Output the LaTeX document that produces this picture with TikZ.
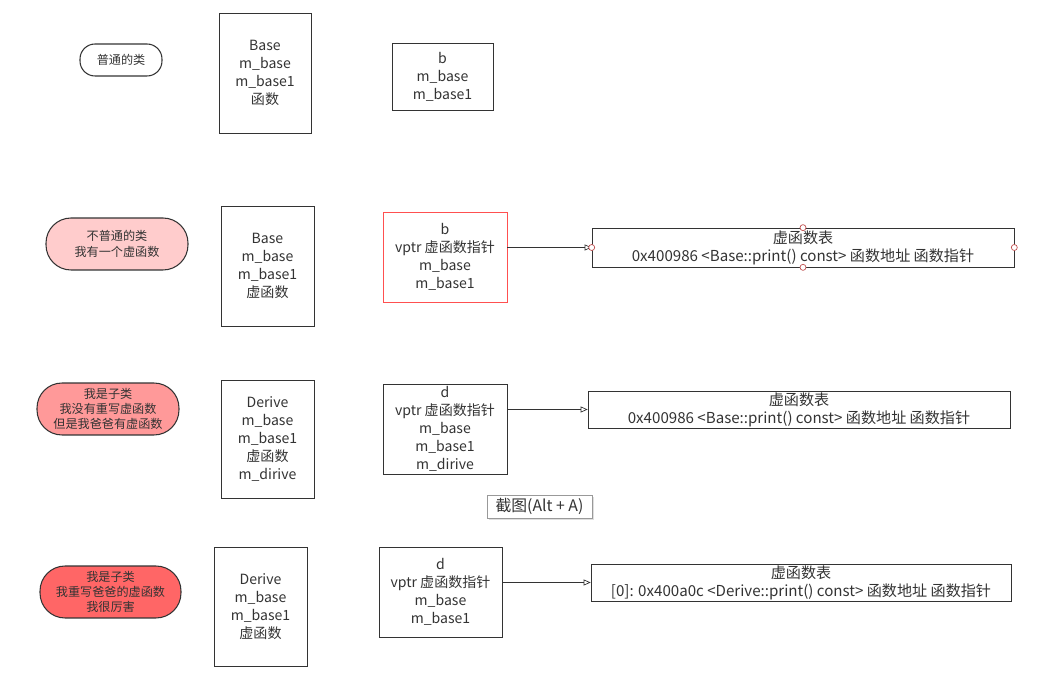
\documentclass[tikz,border=0pt]{standalone}
\usepackage{fontspec}
\setmainfont{Noto Sans CJK SC}
\usetikzlibrary{arrows.meta, shadows}

\definecolor{ink}{HTML}{333333}
\definecolor{pinkA}{HTML}{FFCCCC}
\definecolor{pinkB}{HTML}{FF9999}
\definecolor{pinkC}{HTML}{FF6666}
\definecolor{hot}{HTML}{FF5050}
\definecolor{dot}{HTML}{C05050}

\begin{document}
\begin{tikzpicture}[x=0.02cm, y=-0.02cm,
  every node/.style={text=ink, align=center, inner sep=0pt},
  membox/.style={draw=ink, font=\fontsize{8}{10.2}\selectfont},
  pill/.style={draw=ink, semithick, rounded corners=0.5cm, minimum width=2.84cm, minimum height=1.04cm, font=\fontsize{6.9}{8.7}\selectfont},
  vtab/.style={draw=ink, font=\fontsize{8.6}{10.2}\selectfont},
  ptr/.style={draw=ink, -{Triangle[open, length=0.14cm, width=0.12cm]}},
  pin/.style={circle, draw=dot, fill=white, minimum size=0.12cm}]

\useasboundingbox (0,0) rectangle (1062,675);

% row 1: plain class
\node[pill, rounded corners=0.3cm, minimum width=1.64cm, minimum height=0.64cm] (plain) at (121,60) {普通的类};
\node[membox, minimum width=1.84cm, minimum height=2.4cm] (base1) at (265,73) {Base\\m\_base\\m\_base1\\函数};
\node[membox, minimum width=2.02cm, minimum height=1.34cm] (b1) at (442.5,76.5) {b\\m\_base\\m\_base1};

% row 2: class with a virtual function
\node[pill, fill=pinkA] (virt) at (117,244) {不普通的类\\我有一个虚函数};
\node[membox, minimum width=1.86cm, minimum height=2.4cm] (base2) at (267.5,266) {Base\\m\_base\\m\_base1\\虚函数};
\node[membox, draw=hot, minimum width=2.48cm, minimum height=1.8cm] (b2) at (445,257) {b\\vptr 虚函数指针\\m\_base\\m\_base1};
\node[vtab, minimum width=8.44cm, minimum height=0.78cm] (vt2) at (803,247.5) {虚函数表\\0x400986 <Base::print() const> 函数地址 函数指针};

% row 3: child, not overriding
\node[pill, fill=pinkB] (child) at (108,409) {我是子类\\我没有重写虚函数\\但是我爸爸有虚函数};
\node[membox, minimum width=1.86cm, minimum height=2.36cm] (derive3) at (267.5,439) {Derive\\m\_base\\m\_base1\\虚函数\\m\_dirive};
\node[membox, minimum width=2.48cm, minimum height=1.8cm] (d3) at (445,429) {d\\vptr 虚函数指针\\m\_base\\m\_base1\\m\_dirive};
\node[vtab, minimum width=8.44cm, minimum height=0.74cm] (vt3) at (799,409.5) {虚函数表\\0x400986 <Base::print() const> 函数地址 函数指针};

\node[draw=black!40, fill=white, drop shadow={shadow xshift=0.04cm, shadow yshift=-0.04cm, opacity=0.25},
  minimum width=2.1cm, minimum height=0.46cm, font=\fontsize{9}{10}\selectfont] (tip) at (539.5,506.5) {截图(Alt + A)};

% row 4: child, overriding
\node[pill, minimum width=2.82cm, fill=pinkC] (over) at (110.5,592) {我是子类\\我重写爸爸的虚函数\\我很厉害};
\node[membox, minimum width=1.86cm, minimum height=2.38cm] (derive4) at (260.5,606.5) {Derive\\m\_base\\m\_base1\\虚函数};
\node[membox, minimum width=2.46cm, minimum height=1.8cm] (d4) at (440.5,592) {d\\vptr 虚函数指针\\m\_base\\m\_base1};
\node[vtab, minimum width=8.4cm, minimum height=0.74cm] (vt4) at (801,582.5) {虚函数表\\{[0]}: 0x400a0c <Derive::print() const> 函数地址 函数指针};

% vptr arrows
\draw[ptr] (b2.east |- vt2) -- (vt2.west);
\draw[ptr] (d3.east |- vt3) -- (vt3.west);
\draw[ptr] (d4.east |- vt4) -- (vt4.west);

% selection handles
\foreach \side in {west, east, north, south}
  \node[pin] at (vt2.\side) {};

\end{tikzpicture}
\end{document}
